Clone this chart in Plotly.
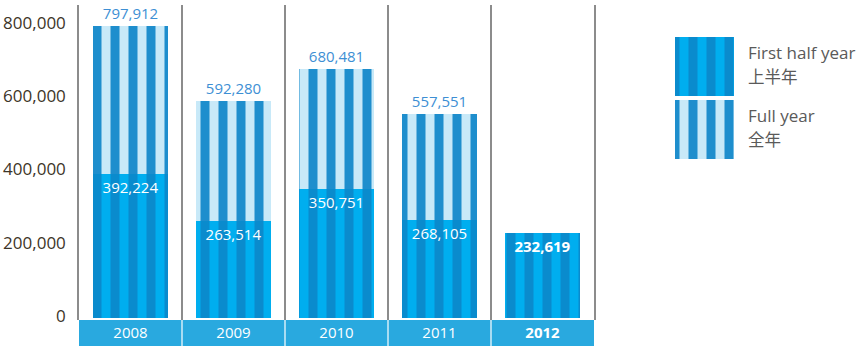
import plotly.graph_objects as go

# Visitor numbers by year
years = ["2008", "2009", "2010", "2011", "2012"]
year_labels = ["2008", "2009", "2010", "2011", "<b>2012</b>"]
first_half = [392224, 263514, 350751, 268105, 232619]
full_year = [797912, 592280, 680481, 557551, None]

y_ticks = [0, 200000, 400000, 600000, 800000]
y_tick_text = ["0", "200,000", "400,000", "600,000", "800,000"]

legend_names = ["First half year", "Full year"]
legend_names_zh = ["上半年", "全年"]

FONT = "Open Sans"
BAND = "#29a9df"
SEP = "#8c8c8c"

# pattern styles: bright waves for the first half, pale waves for the full year
H1_STYLE = dict(color="#0a8bcd",
                pattern=dict(shape="|", fgcolor="#00aeef", bgcolor="#0a8bcd",
                             size=18, solidity=0.5, fillmode="replace"))
FY_STYLE = dict(color="#1e8ecd",
                pattern=dict(shape="|", fgcolor="#c8e9f8", bgcolor="#1e8ecd",
                             size=18, solidity=0.5, fillmode="replace"))


def fmt(v):
    return f"{v:,}"


fig = go.Figure()

# full-year bars (behind)
fy_x = [y for y, v in zip(years, full_year) if v is not None]
fy_v = [v for v in full_year if v is not None]
fig.add_trace(go.Bar(
    x=fy_x, y=fy_v, width=0.72, marker=dict(line=dict(width=0), **FY_STYLE),
    text=[fmt(v) for v in fy_v], textposition="outside",
    textfont=dict(family=FONT, size=15, color="#3d8fd4"),
    cliponaxis=False, hoverinfo="skip", showlegend=False,
))

# first-half bars (in front)
h1_text = [fmt(v) if fy is not None else f"<b>{fmt(v)}</b>"
           for v, fy in zip(first_half, full_year)]
fig.add_trace(go.Bar(
    x=years, y=first_half, width=0.72, marker=dict(line=dict(width=0), **H1_STYLE),
    text=h1_text, textposition="inside", insidetextanchor="end",
    textfont=dict(family=FONT, size=15, color="white"),
    textangle=0, constraintext="none",
    hoverinfo="skip", showlegend=False,
))

# legend swatches drawn as bars in small inset axes
fig.add_trace(go.Bar(x=[0], y=[1], width=1, marker=dict(line=dict(width=0), **H1_STYLE),
                     xaxis="x2", yaxis="y2", hoverinfo="skip", showlegend=False))
fig.add_trace(go.Bar(x=[0], y=[1], width=1, marker=dict(line=dict(width=0), **FY_STYLE),
                     xaxis="x3", yaxis="y3", hoverinfo="skip", showlegend=False))

W, H = 867, 346
ml, mr, mt, mb = 79, 7, 5, 26
pw, ph = W - ml - mr, H - mt - mb


def px_x(x):
    return (x - ml) / pw


def px_y(y):
    return (H - mb - y) / ph


plot_right = px_x(594)

# category strip under the bars
shapes = [dict(type="rect", xref="paper", yref="paper", x0=0, x1=plot_right,
               y0=-mb / ph, y1=0, fillcolor=BAND, line=dict(width=0), layer="below")]
for i in range(1, len(years)):
    shapes.append(dict(type="line", xref="x", yref="paper", x0=i - 0.5, x1=i - 0.5,
                       y0=-mb / ph, y1=0, line=dict(color="white", width=1.2),
                       layer="below"))

annotations = []
for i, (en, zh) in enumerate(zip(legend_names, legend_names_zh)):
    top = 37 + i * 63
    annotations.append(dict(xref="paper", yref="paper", x=px_x(746), y=px_y(top + 15),
                            text=en, showarrow=False, xanchor="left", yanchor="middle",
                            font=dict(family=FONT, size=17, color="#5a5a5a")))
    annotations.append(dict(xref="paper", yref="paper", x=px_x(746), y=px_y(top + 39),
                            text=zh, showarrow=False, xanchor="left", yanchor="middle",
                            font=dict(family="Noto Sans CJK SC", size=16.5, color="#5a5a5a")))

fig.update_layout(
    width=W, height=H,
    margin=dict(l=ml, r=mr, t=mt, b=mb),
    paper_bgcolor="white", plot_bgcolor="white",
    barmode="overlay", bargap=0,
    showlegend=False,
    shapes=shapes, annotations=annotations,
    xaxis=dict(domain=[0, plot_right], categoryorder="array", categoryarray=years,
               tickvals=years, ticktext=year_labels, tickson="boundaries",
               showgrid=True, gridcolor=SEP, gridwidth=1.5, ticks="",
               showline=False, zeroline=False, ticklabelstandoff=2, automargin=False,
               tickfont=dict(family=FONT, size=15, color="white"), fixedrange=True),
    yaxis=dict(range=[-5460, 854300], tickvals=y_ticks, ticktext=y_tick_text,
               showgrid=False, zeroline=False, ticks="", automargin=False,
               showline=True, mirror=True, linecolor=SEP, linewidth=1.5,
               ticklabelshift=-2, ticklabelstandoff=8,
               tickfont=dict(family=FONT, size=17, color="#3d3528"), fixedrange=True),
    xaxis2=dict(domain=[px_x(675), px_x(734)], range=[-0.5, 0.5], visible=False, anchor="y2"),
    yaxis2=dict(domain=[px_y(96), px_y(37)], range=[0, 1], visible=False, anchor="x2"),
    xaxis3=dict(domain=[px_x(675), px_x(734)], range=[-0.5, 0.5], visible=False, anchor="y3"),
    yaxis3=dict(domain=[px_y(159), px_y(100)], range=[0, 1], visible=False, anchor="x3"),
)

fig.write_html("out.html")
